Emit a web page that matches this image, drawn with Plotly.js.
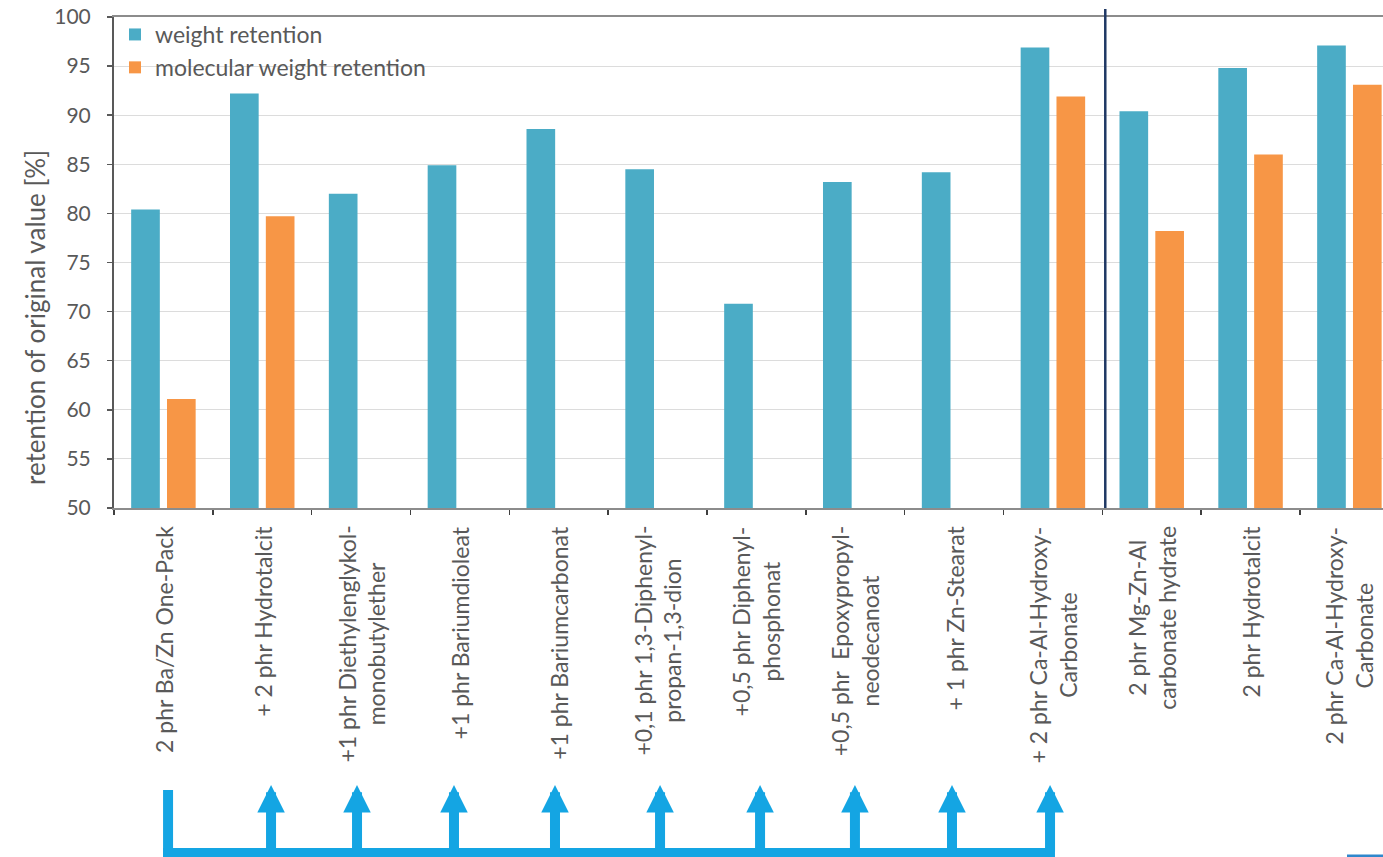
<!DOCTYPE html>
<html>
<head>
<meta charset="utf-8">
<script src="https://cdn.plot.ly/plotly-3.0.1.min.js"></script>
<style>
  html, body { margin: 0; padding: 0; background: #ffffff; }
  #chart { width: 1383px; height: 857px; }
</style>
</head>
<body>
<div id="chart"></div>
<script>
// ---- data ----
const categories = [
  "2 phr Ba/Zn One-Pack",
  "+ 2 phr Hydrotalcit",
  "+1 phr Diethylenglykol-<br>monobutylether",
  "+1 phr Bariumdioleat",
  "+1 phr Bariumcarbonat",
  "+0,1 phr 1,3-Diphenyl-<br>propan-1,3-dion",
  "+0,5 phr Diphenyl-<br>phosphonat",
  "+0,5 phr  Epoxypropyl-<br>neodecanoat",
  "+ 1 phr Zn-Stearat",
  "+ 2 phr Ca-Al-Hydroxy-<br>Carbonate",
  "2 phr Mg-Zn-Al<br>carbonate hydrate",
  "2 phr Hydrotalcit",
  "2 phr Ca-Al-Hydroxy-<br>Carbonate"
];
const weightRetention = [80.4, 92.2, 82.0, 84.9, 88.6, 84.5, 70.8, 83.2, 84.2, 96.9, 90.4, 94.8, 97.1];
const molWeightRetention = [61.1, 79.7, null, null, null, null, null, null, null, 91.9, 78.2, 86.0, 93.1];
const seriesNames = ["weight retention", "molecular weight retention"];
const yTitle = "retention of original value [%]";
const yTicks = [50, 55, 60, 65, 70, 75, 80, 85, 90, 95, 100];
// positions (category index units) of the additive arrows under the axis
const arrowStart = 0.047;
const arrowPositions = [1.089, 1.959, 2.940, 3.962, 5.025, 6.037, 6.997, 7.979, 8.971];

// ---- geometry helpers ----
const W = 1383, H = 857;
const M = {l: 114, r: 0, t: 17, b: 349};
const plotH = H - M.t - M.b;
const plotW = W - M.l - M.r;
const py = px => (H - M.b - px) / plotH;      // pixel row -> paper y
const pxX = px => (px - M.l) / plotW;         // pixel col -> paper x

const textColor = "#595959";
const font = "Lato, 'Open Sans', sans-serif";
const arrowColor = "#14a5e3";

const traces = [
  {type: "bar", name: seriesNames[0], x: categories, y: weightRetention,
   marker: {color: "#4bacc6"}},
  {type: "bar", name: seriesNames[1], x: categories, y: molWeightRetention,
   marker: {color: "#f79646"}}
];

const annotations = [];
// category labels, rotated
categories.forEach((c, i) => {
  annotations.push({
    x: i, xref: "x", y: py(524), yref: "paper",
    text: c, showarrow: false, textangle: -90,
    xanchor: "center", yanchor: "top", align: "center",
    font: {family: font, size: 23, color: textColor}
  });
});
// y title
annotations.push({
  x: pxX(35), xref: "paper", y: py(318), yref: "paper",
  text: yTitle, showarrow: false, textangle: -90,
  xanchor: "center", yanchor: "middle",
  font: {family: font, size: 26, color: textColor}
});
// arrows
arrowPositions.forEach(p => {
  annotations.push({
    x: p, xref: "x", y: py(785), yref: "paper",
    ax: 0, ay: 68, text: "", showarrow: true,
    arrowhead: 2, arrowsize: 0.55, arrowwidth: 10, arrowcolor: arrowColor,
    standoff: 0
  });
});

const shapes = [
  // divider line
  {type: "line", xref: "x", yref: "paper", x0: 9.53, x1: 9.53, y0: 0, y1: py(9),
   line: {color: "#1f3864", width: 2.5}},
  // start post of the bracket
  {type: "line", xref: "x", yref: "paper", x0: arrowStart, x1: arrowStart, y0: py(790), y1: py(860),
   line: {color: arrowColor, width: 10}},
  // horizontal bracket
  {type: "rect", xref: "x", yref: "paper", x0: arrowStart - 0.05, x1: arrowPositions[arrowPositions.length - 1] + 0.05,
   y0: py(848), y1: py(862), line: {width: 0}, fillcolor: arrowColor},
  // start of a second bracket at the bottom right
  {type: "line", xref: "paper", yref: "paper", x0: pxX(1347), x1: 1.02, y0: py(856), y1: py(856),
   line: {color: "#2f87cc", width: 3}}
];

const layout = {
  width: W, height: H,
  margin: M,
  paper_bgcolor: "#ffffff", plot_bgcolor: "#ffffff",
  font: {family: font, color: textColor},
  barmode: "group", bargap: 0.275, bargroupgap: 0.2,
  showlegend: true,
  legend: {x: pxX(115), y: py(13), xanchor: "left", yanchor: "top", bgcolor: "rgba(0,0,0,0)",
           font: {family: font, size: 23, color: textColor}, tracegroupgap: 0},
  xaxis: {
    type: "category", range: [-0.5, 12.34],
    showticklabels: false, ticks: "outside", ticklen: 5, tickcolor: "#404040", tickwidth: 1.5,
    tickson: "boundaries", showgrid: false,
    showline: true, linecolor: "#8c8c8c", linewidth: 2, mirror: true, zeroline: false
  },
  yaxis: {
    range: [50, 100], tickvals: yTicks, ticks: "outside", ticklen: 5,
    tickcolor: "#595959", tickwidth: 1.5, ticklabelstandoff: 12,
    tickfont: {family: font, size: 21, color: textColor},
    showgrid: true, gridcolor: "#dcdcdc", gridwidth: 1,
    showline: true, linecolor: "#595959", linewidth: 2, zeroline: false
  },
  annotations: annotations,
  shapes: shapes
};

Plotly.newPlot("chart", traces, layout, {displayModeBar: false, staticPlot: true});
</script>
</body>
</html>
